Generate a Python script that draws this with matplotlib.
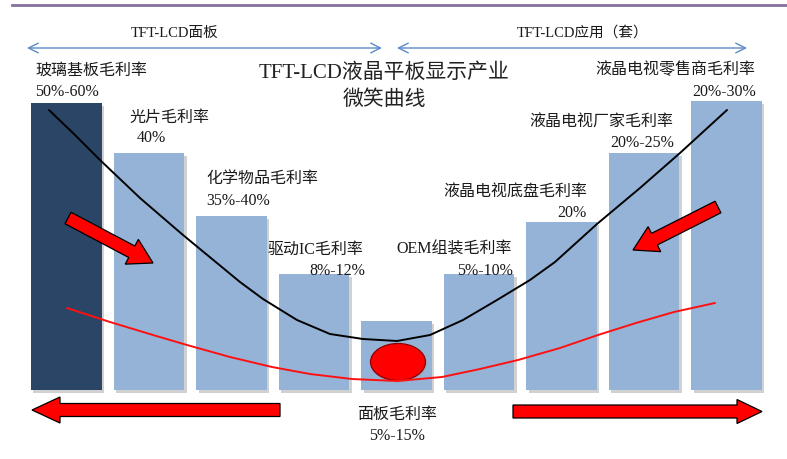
import numpy as np
import matplotlib.pyplot as plt
from matplotlib.patches import FancyArrow, Ellipse

plt.rcParams['font.family'] = ['Liberation Serif', 'Noto Sans CJK SC', 'DejaVu Sans']

# bar heights (pixels above the baseline)
stages = ['玻璃基板', '光片', '化学物品', '驱动IC', '面板', 'OEM组装',
          '液晶电视底盘', '液晶电视厂家', '液晶电视零售商']
heights = [287, 237, 174, 116, 69, 116, 168, 237, 289]
bar_colors = ['#2b4566'] + ['#95b3d7'] * 8

# smile curves (picture coords)
black_x = [49, 75, 100, 140, 183, 240, 263, 297, 330, 363, 397, 430, 463, 497, 530, 555, 597, 640, 680, 727]
black_y = [110, 135, 160, 198, 235, 282, 299, 320, 334, 339, 341, 335, 320, 300, 280, 262, 224, 188, 153, 110]
red_x = [67, 110, 153, 187, 230, 272, 310, 352, 397, 442, 480, 518, 560, 598, 636, 674, 715]
red_y = [308, 322, 335, 345, 357, 367, 374, 379, 381, 377, 369, 360, 348, 335, 323, 312, 303]

# labels: text, x, y, align
labels = [
    ('玻璃基板毛利率', 35, 71, 'left'), ('50%-60%', 35, 92, 'left'),
    ('光片毛利率', 129, 118, 'left'), ('40%', 137, 138, 'left'),
    ('化学物品毛利率', 206, 179, 'left'), ('35%-40%', 206, 201, 'left'),
    ('驱动IC毛利率', 268, 250, 'left'), ('8%-12%', 309, 271, 'left'),
    ('OEM组装毛利率', 512, 250, 'right'), ('5%-10%', 513, 271, 'right'),
    ('液晶电视底盘毛利率', 587, 193, 'right'), ('20%', 587, 213, 'right'),
    ('液晶电视厂家毛利率', 673, 123, 'right'), ('20%-25%', 674, 143, 'right'),
    ('液晶电视零售商毛利率', 755, 70, 'right'), ('20%-30%', 756, 92, 'right'),
]

fig = plt.figure(figsize=(7.87, 4.59), dpi=100)

# bars on an index axis, baseline at y=0 (390 px from top)
ax = fig.add_axes([0, 0, 1, 1])
ax.set_xlim(-0.806, 8.733)
ax.set_ylim(-69, 390)
ax.axis('off')
xs = np.arange(len(heights))
ax.bar(xs + 0.03, heights, width=0.86, bottom=-2.5, color='#9a9a9a', alpha=0.45)
ax.bar(xs, heights, width=0.86, color=bar_colors)

# overlay in picture coords
ov = fig.add_axes([0, 0, 1, 1])
ov.set_xlim(0, 787)
ov.set_ylim(459, 0)
ov.axis('off')
ov.patch.set_alpha(0)

ov.plot([12, 787], [5, 5], color='#8571a0', lw=2)

arrow_kw = dict(arrowstyle='<->,head_length=0.7,head_width=0.35', color='#5b8bc9', lw=1,
                mutation_scale=10, shrinkA=0, shrinkB=0)
ov.annotate('', xy=(27, 48), xytext=(382, 48), arrowprops=arrow_kw)
ov.annotate('', xy=(397, 48), xytext=(747, 48), arrowprops=arrow_kw)
ov.text(175, 33, 'TFT-LCD面板', ha='center', va='center', fontsize=10.5, color='#1a1a1a')
ov.text(583, 33, 'TFT-LCD应用（套）', ha='center', va='center', fontsize=10.5, color='#1a1a1a')

ov.text(384, 73, 'TFT-LCD液晶平板显示产业', ha='center', va='center', fontsize=15, color='#222222')
ov.text(384, 100, '微笑曲线', ha='center', va='center', fontsize=15, color='#222222')

ov.plot(black_x, black_y, color='black', lw=1.4, solid_capstyle='round', solid_joinstyle='round')
ov.plot(red_x, red_y, color='#ff1010', lw=1.4, solid_capstyle='round', solid_joinstyle='round')

ov.add_patch(Ellipse((399, 364), 55, 37, fc='#9a9a9a', alpha=0.4, lw=0))
ov.add_patch(Ellipse((398, 362), 55, 37, fc='#ff0000', ec='#8a0000', lw=0.9))

red_kw = dict(fc='#ff0000', ec='black', lw=0.9, length_includes_head=True)
ov.add_patch(FancyArrow(68, 218, 85, 45, width=13, head_width=28, head_length=24, **red_kw))
ov.add_patch(FancyArrow(718, 207, -85, 43, width=13, head_width=28, head_length=24, **red_kw))
ov.add_patch(FancyArrow(280, 410, -248, 0, width=13, head_width=26, head_length=28, **red_kw))
ov.add_patch(FancyArrow(513, 411.5, 249, 0, width=13, head_width=24, head_length=25, **red_kw))

for txt, x, y, ha in labels:
    ov.text(x, y, txt, ha=ha, va='center', fontsize=11.5, color='#1a1a1a')

ov.text(397, 415, '面板毛利率', ha='center', va='center', fontsize=11.5, color='#1a1a1a')
ov.text(397, 436, '5%-15%', ha='center', va='center', fontsize=11.5, color='#1a1a1a')

fig.savefig('out.png', dpi=100)
